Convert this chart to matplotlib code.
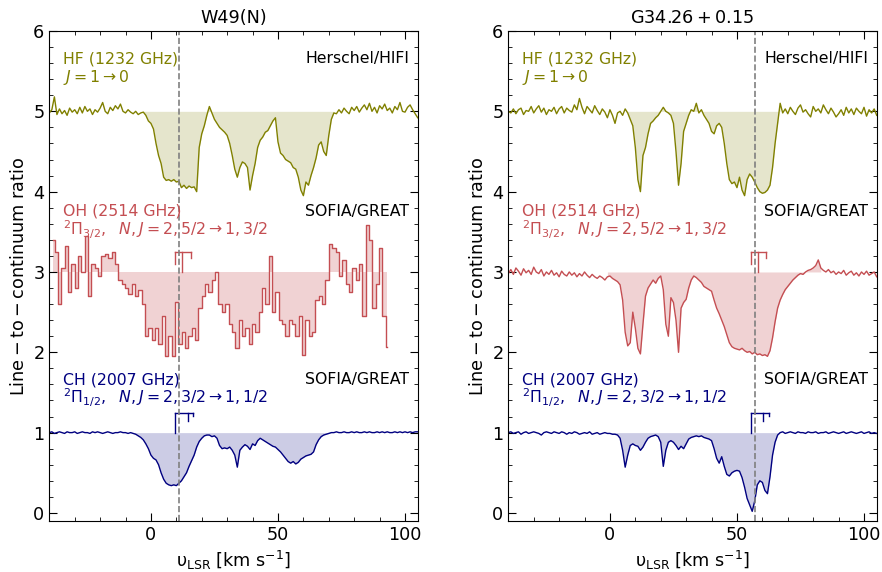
import numpy as np
import matplotlib
matplotlib.use('Agg')
import matplotlib.pyplot as plt
from matplotlib.ticker import MultipleLocator

# velocity grid (km/s) of the HF, CH and G34 OH spectra
vel = np.arange(-40, 106)

# W49(N) spectra
hf_w49 = [4.98, 5.02, 5.18, 4.96, 5.03, 4.97, 5.01, 4.95, 5.04, 4.99,
          5.02, 4.97, 5.05, 4.98, 5.06, 5.00, 5.03, 4.96, 5.02, 4.99,
          5.04, 5.11, 5.00, 4.97, 5.05, 5.01, 5.07, 5.03, 5.09, 5.00,
          4.98, 5.02, 4.99, 4.97, 5.00, 4.96, 4.98, 4.99, 4.95, 4.88,
          4.85, 4.78, 4.60, 4.45, 4.35, 4.18, 4.14, 4.15, 4.13, 4.15,
          4.12, 4.13, 4.05, 4.08, 4.04, 4.07, 4.05, 4.06, 4.00, 4.55,
          4.72, 4.82, 4.95, 5.06, 4.98, 4.90, 4.85, 4.80, 4.77, 4.74,
          4.70, 4.60, 4.45, 4.28, 4.18, 4.30, 4.37, 4.35, 4.30, 4.02,
          4.20, 4.35, 4.55, 4.64, 4.68, 4.74, 4.76, 4.82, 4.88, 4.92,
          4.62, 4.48, 4.45, 4.40, 4.38, 4.36, 4.30, 4.28, 4.18, 4.02,
          3.95, 4.12, 4.08, 4.20, 4.30, 4.42, 4.58, 4.62, 4.50, 4.45,
          4.70, 4.90, 4.98, 4.97, 5.02, 4.98, 5.04, 5.00, 4.97, 5.05,
          5.01, 5.06, 4.99, 5.04, 5.08, 5.02, 5.10, 5.00, 5.05, 4.98,
          5.07, 5.03, 5.09, 5.01, 5.04, 4.98, 5.06, 5.02, 5.11, 5.00,
          4.99, 5.05, 5.08, 5.02, 4.97, 4.92]

# OH towards W49(N) has coarser channels
oh_w49_start = -38.55
oh_w49_chan = 1.316
oh_w49 = [3.40, 3.25, 2.60, 3.05, 3.32, 2.75, 3.10, 2.80, 3.20, 3.00,
          3.45, 2.70, 3.10, 3.05, 2.95, 3.20, 3.22, 3.18, 3.25, 3.10,
          2.90, 2.85, 2.80, 2.72, 2.85, 2.70, 2.78, 2.60, 2.20, 2.30,
          2.15, 2.30, 2.10, 2.45, 1.95, 2.20, 1.95, 2.62, 2.10, 2.25,
          2.05, 2.20, 2.30, 2.15, 2.55, 2.70, 2.85, 2.75, 2.90, 3.00,
          2.60, 2.50, 2.60, 2.35, 2.25, 2.05, 2.40, 2.20, 2.30, 2.10,
          2.35, 2.25, 2.50, 2.80, 2.60, 3.20, 2.50, 2.75, 2.40, 2.35,
          2.20, 2.40, 2.35, 2.20, 2.45, 1.97, 2.40, 2.20, 2.25, 2.65,
          2.70, 2.60, 2.90, 3.35, 3.30, 3.25, 2.95, 3.15, 2.85, 2.75,
          3.05, 2.90, 3.10, 2.45, 3.58, 3.40, 2.55, 2.85, 3.30, 2.45,
          2.07]

ch_w49 = [1.00, 1.01, 0.99, 1.00, 1.01, 1.00, 0.99, 1.01, 1.00, 1.00,
          1.01, 0.99, 1.00, 1.01, 1.00, 1.00, 0.99, 1.01, 1.00, 1.01,
          1.00, 0.99, 1.00, 1.01, 1.00, 0.99, 1.00, 1.00, 1.01, 1.00,
          1.00, 0.99, 1.00, 0.99, 0.98, 0.96, 0.94, 0.91, 0.86, 0.80,
          0.72, 0.68, 0.66, 0.60, 0.50, 0.42, 0.37, 0.35, 0.34, 0.35,
          0.34, 0.37, 0.40, 0.45, 0.50, 0.58, 0.65, 0.72, 0.82, 0.89,
          0.93, 0.96, 0.97, 0.97, 0.95, 0.96, 0.93, 0.84, 0.80, 0.81,
          0.80, 0.82, 0.78, 0.72, 0.57, 0.78, 0.82, 0.85, 0.83, 0.79,
          0.86, 0.84, 0.90, 0.93, 0.91, 0.89, 0.87, 0.85, 0.83, 0.82,
          0.79, 0.76, 0.72, 0.68, 0.64, 0.62, 0.64, 0.61, 0.63, 0.67,
          0.69, 0.71, 0.72, 0.73, 0.76, 0.85, 0.91, 0.95, 0.97, 0.98,
          0.99, 1.00, 1.00, 1.01, 1.00, 1.00, 1.01, 1.00, 1.00, 1.01,
          1.00, 1.01, 1.00, 1.00, 1.01, 1.00, 1.01, 1.00, 1.00, 1.01,
          1.00, 1.01, 1.00, 1.01, 1.00, 1.00, 1.01, 1.00, 1.01, 1.00,
          1.01, 1.00, 1.01, 1.00, 1.01, 1.01]

# G34.26+0.15 spectra
hf_g34 = [5.00, 4.98, 5.03, 4.97, 5.02, 5.04, 4.96, 5.01, 5.00, 5.06,
          4.98, 5.03, 5.07, 4.99, 5.04, 4.96, 5.02, 5.00, 5.05, 4.97,
          5.03, 5.06, 4.98, 5.04, 5.01, 4.99, 5.08, 5.02, 5.16, 5.05,
          4.97, 5.06, 5.02, 4.98, 5.07, 5.01, 4.96, 5.03, 4.99, 4.92,
          5.02, 4.95, 4.85, 4.98, 5.00, 4.95, 5.03, 4.98, 4.90, 4.82,
          4.55, 4.15, 4.00, 4.45, 4.55, 4.72, 4.85, 4.88, 4.92, 4.95,
          5.00, 5.05, 5.00, 4.98, 4.95, 4.85, 4.50, 4.08, 4.35, 4.75,
          4.85, 4.95, 5.02, 5.00, 5.10, 4.98, 5.02, 4.95, 4.90, 4.85,
          4.75, 4.72, 4.82, 4.85, 4.80, 4.60, 4.35, 4.15, 4.10, 4.12,
          4.05, 4.18, 4.02, 3.95, 4.15, 4.22, 4.18, 4.12, 4.05, 4.00,
          3.98, 3.99, 4.02, 4.08, 4.30, 4.60, 4.85, 5.10, 4.98, 5.03,
          4.97, 5.05, 5.00, 4.96, 5.04, 5.08, 4.99, 5.02, 4.97, 4.93,
          5.06, 5.00, 5.03, 4.98, 5.08, 5.02, 4.97, 5.04, 4.99, 4.93,
          4.97, 5.02, 4.95, 5.05, 4.98, 5.03, 4.96, 5.04, 5.00, 4.97,
          5.05, 4.94, 5.02, 4.98, 5.03, 4.95]

oh_g34 = [2.98, 3.03, 2.97, 3.05, 3.01, 2.96, 3.04, 2.99, 3.02, 2.97,
          3.06, 3.00, 2.98, 3.03, 2.95, 3.00, 2.97, 3.02, 2.96, 2.99,
          2.94, 3.01, 2.97, 2.95, 3.00, 2.96, 2.99, 2.94, 2.98, 2.95,
          3.00, 2.96, 2.93, 2.97, 2.94, 2.92, 2.95, 2.93, 2.90, 2.94,
          2.95, 2.92, 2.90, 2.88, 2.84, 2.65, 2.25, 2.08, 2.12, 2.50,
          2.30, 2.05, 1.98, 2.35, 2.70, 2.80, 2.85, 2.90, 2.86, 2.92,
          2.95, 2.78, 2.35, 2.20, 2.68, 2.62, 2.40, 2.00, 2.55, 2.62,
          2.66, 2.80, 2.90, 2.95, 2.93, 2.90, 2.87, 2.82, 2.80, 2.78,
          2.76, 2.65, 2.55, 2.48, 2.40, 2.32, 2.22, 2.12, 2.07, 2.05,
          2.04, 2.03, 2.05, 2.02, 2.00, 2.01, 1.98, 2.00, 1.97, 1.98,
          1.96, 1.97, 1.95, 2.02, 2.18, 2.38, 2.55, 2.65, 2.72, 2.78,
          2.82, 2.86, 2.90, 2.93, 2.96, 2.98, 2.97, 3.00, 3.02, 3.03,
          3.05, 3.08, 3.15, 3.05, 3.02, 3.00, 3.03, 2.99, 3.01, 2.97,
          3.00, 2.98, 3.02, 2.96, 2.99, 3.01, 2.96, 2.99, 2.95, 3.00,
          2.97, 3.01, 2.96, 2.98, 3.00, 2.94]

ch_g34 = [1.00, 1.01, 0.99, 1.00, 1.01, 0.98, 1.00, 1.01, 0.99, 1.00,
          1.01, 1.00, 0.99, 0.97, 1.00, 1.01, 1.00, 0.99, 1.01, 1.00,
          0.99, 1.01, 1.00, 0.98, 1.00, 0.99, 1.01, 1.00, 0.98, 0.99,
          1.00, 0.99, 1.01, 0.98, 0.99, 1.00, 0.98, 0.99, 1.00, 0.99,
          0.99, 0.98, 0.98, 0.97, 0.93, 0.78, 0.57, 0.72, 0.84, 0.86,
          0.84, 0.83, 0.78, 0.82, 0.88, 0.93, 0.95, 0.96, 0.97, 0.95,
          0.88, 0.58, 0.78, 0.88, 0.90, 0.88, 0.84, 0.79, 0.83, 0.80,
          0.86, 0.92, 0.94, 0.95, 0.96, 0.95, 0.96, 0.94, 0.93, 0.92,
          0.90, 0.80, 0.68, 0.62, 0.70, 0.58, 0.48, 0.46, 0.50, 0.52,
          0.53, 0.52, 0.44, 0.32, 0.18, 0.10, 0.02, 0.15, 0.35, 0.40,
          0.38, 0.28, 0.24, 0.45, 0.72, 0.88, 0.97, 1.00, 1.01, 0.99,
          1.00, 1.01, 1.00, 0.99, 1.01, 1.00, 1.00, 0.99, 1.01, 1.00,
          1.00, 1.01, 0.99, 1.00, 1.00, 1.01, 0.99, 1.00, 1.01, 1.00,
          0.99, 1.00, 1.01, 0.99, 1.00, 1.01, 1.00, 0.99, 1.00, 1.01,
          0.99, 1.00, 1.01, 0.99, 1.00, 0.99]

# systemic velocities and hyperfine offsets (km/s from v_sys)
vsys = {'W49(N)': 11.0, 'G34': 57.0}
oh_hfs = [-1.6, 1.4, 4.6]
oh_hfs_end = [3.10, 3.00, 3.18]
ch_hfs = [-1.6, 3.4, 5.6]
ch_hfs_end = [1.00, 1.15, 1.21]

# velocity ranges of the shaded absorption
shade = {'W49(N)': [(-3, 72), (-40, 95), (-7, 71)],
         'G34': [(7, 67), (-1, 83), (0, 67)]}

c_hf = '#808000'
c_oh = '#c44e52'
c_ch = '#000080'

fig = plt.figure(figsize=(8.82, 5.72), dpi=100)
ax1 = fig.add_axes([0.0559, 0.0892, 0.4177, 0.8566])
ax2 = fig.add_axes([0.5763, 0.0892, 0.4177, 0.8566])


def hfs_marker(ax, v0, offs, ends, base, color):
    top = base + 0.25
    ax.plot([v0 + offs[0], v0 + offs[-1]], [top, top], color=color, lw=1)
    for o, e in zip(offs, ends):
        ax.plot([v0 + o, v0 + o], [top, e], color=color, lw=1)


def panel(ax, src, hf, oh_v, oh, ch, oh_steps):
    v0 = vsys[src]
    hf = np.array(hf)
    oh = np.array(oh)
    ch = np.array(ch)
    r_hf, r_oh, r_ch = shade[src]

    ax.plot(vel, hf, color=c_hf, lw=1)
    m = (vel >= r_hf[0]) & (vel <= r_hf[1])
    ax.fill_between(vel, hf, 5, where=m, color=c_hf, alpha=0.2, lw=0)

    if oh_steps:
        ax.plot(oh_v, oh, color=c_oh, lw=1, drawstyle='steps-mid')
        ax.fill_between(oh_v, oh, 3, color=c_oh, alpha=0.25, lw=0, step='mid')
    else:
        ax.plot(oh_v, oh, color=c_oh, lw=1)
        m = (oh_v >= r_oh[0]) & (oh_v <= r_oh[1])
        ax.fill_between(oh_v, oh, 3, where=m, color=c_oh, alpha=0.25, lw=0)

    ax.plot(vel, ch, color=c_ch, lw=1)
    m = (vel >= r_ch[0]) & (vel <= r_ch[1])
    ax.fill_between(vel, ch, 1, where=m, color=c_ch, alpha=0.2, lw=0)

    hfs_marker(ax, v0, oh_hfs, oh_hfs_end, 3, c_oh)
    hfs_marker(ax, v0, ch_hfs, ch_hfs_end, 1, c_ch)
    ax.axvline(v0, color='gray', ls='--', lw=1.2)

    fs = 11.3
    ax.text(-34.6, 5.6, 'HF (1232 GHz)', color=c_hf, fontsize=fs)
    ax.text(-34.6, 5.37, r'$J=1\rightarrow0$', color=c_hf, fontsize=fs)
    ax.text(101.6, 5.6, 'Herschel/HIFI', ha='right', fontsize=fs)
    ax.text(-34.6, 3.70, 'OH (2514 GHz)', color=c_oh, fontsize=fs)
    ax.text(-34.6, 3.46, r'$^2\Pi_{3/2},\ \ N,J=2,5/2\rightarrow1,3/2$', color=c_oh, fontsize=fs)
    ax.text(101.6, 3.70, 'SOFIA/GREAT', ha='right', fontsize=fs)
    ax.text(-34.6, 1.60, 'CH (2007 GHz)', color=c_ch, fontsize=fs)
    ax.text(-34.6, 1.37, r'$^2\Pi_{1/2},\ \ N,J=2,3/2\rightarrow1,1/2$', color=c_ch, fontsize=fs)
    ax.text(101.6, 1.60, 'SOFIA/GREAT', ha='right', fontsize=fs)

    ax.set_xlim(-40, 105)
    ax.set_ylim(-0.1, 6)
    ax.xaxis.set_major_locator(MultipleLocator(50))
    ax.xaxis.set_minor_locator(MultipleLocator(10))
    ax.yaxis.set_major_locator(MultipleLocator(1))
    ax.yaxis.set_minor_locator(MultipleLocator(0.2))
    ax.tick_params(which='both', direction='in', top=True, right=True, labelsize=12.7)
    ax.tick_params(which='major', length=6)
    ax.tick_params(which='minor', length=3)
    ax.set_xlabel('υ$_{\\rm LSR}$ [km s$^{-1}$]', fontsize=12.7)
    ax.set_ylabel(r'$\mathrm{Line-to-continuum\ ratio}$', fontsize=12.7)


oh_w49_v = oh_w49_start + oh_w49_chan * np.arange(len(oh_w49))
panel(ax1, 'W49(N)', hf_w49, oh_w49_v, oh_w49, ch_w49, True)
panel(ax2, 'G34', hf_g34, vel, oh_g34, ch_g34, False)
ax1.set_title('W49(N)', fontsize=12.7)
ax2.set_title(r'$\mathrm{G34.26+0.15}$', fontsize=12.7)

fig.savefig('out.png', dpi=100)
